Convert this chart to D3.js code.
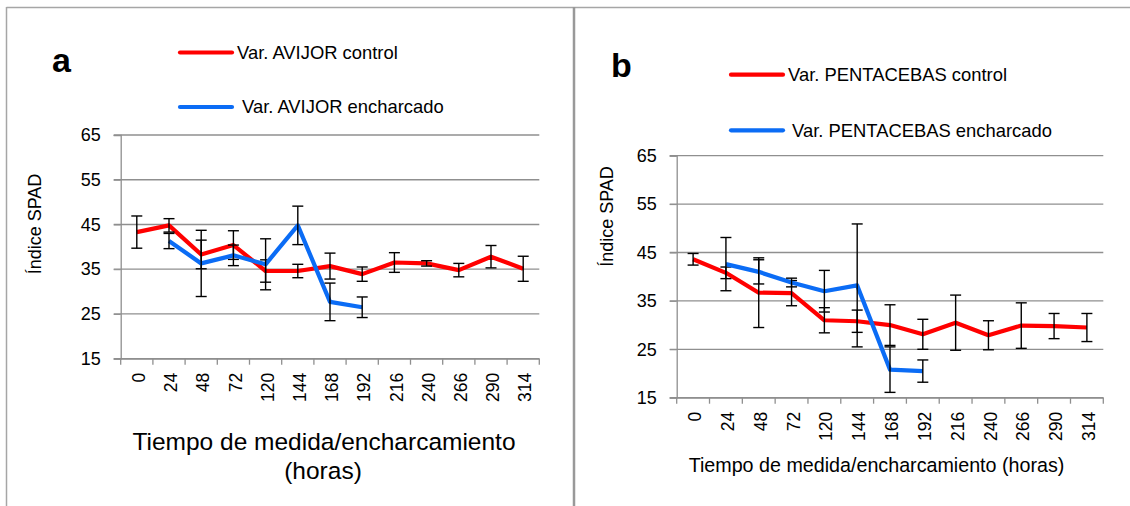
<!DOCTYPE html>
<html>
<head>
<meta charset="utf-8">
<script src="https://cdn.jsdelivr.net/npm/d3@7"></script>
<style>
  body { margin: 0; background: #fff; }
  svg { display: block; font-family: "Liberation Sans", Arial, sans-serif; }
</style>
</head>
<body>
<svg id="chart" width="1130" height="506"></svg>
<script>
// categories (hours)
var categories = ["0","24","48","72","120","144","168","192","216","240","266","290","314"];
var yTicks = [15, 25, 35, 45, 55, 65];

// panel a - AVIJOR
var avijorControl = [43.3, 44.8, 38.3, 40.4, 34.6, 34.6, 35.7, 33.9, 36.5, 36.3, 34.8, 37.8, 35.1];
var avijorControlErr = [3.6, 1.5, 3.2, 3.2, 2.5, 1.5, 2.9, 1.6, 2.2, 0.6, 1.5, 2.5, 2.8];
var avijorEnch = [null, 41.3, 36.3, 38.1, 36.1, 44.8, 27.7, 26.5, null, null, null, null, null];
var avijorEnchErr = [null, 1.7, 7.4, 2.3, 5.7, 4.3, 4.2, 2.3, null, null, null, null, null];

// panel b - PENTACEBAS
var pentaControl = [43.6, 40.8, 36.7, 36.6, 31.0, 30.8, 30.0, 28.1, 30.5, 27.9, 29.9, 29.8, 29.5];
var pentaControlErr = [1.2, 1.2, 7.2, 2.6, 2.6, 2.3, 4.2, 3.1, 5.7, 3.0, 4.7, 2.6, 2.9];
var pentaEnch = [null, 42.6, 41.0, 38.8, 37.0, 38.2, 20.8, 20.5, null, null, null, null, null];
var pentaEnchErr = [null, 5.5, 2.5, 0.9, 4.3, 12.7, 4.7, 2.3, null, null, null, null, null];

var RED = "#ff0000", BLUE = "#0b6cf5", GRID = "#8f8f8f";

var svg = d3.select("#chart");

// outer frame
svg.append("line").attr("x1", 6.5).attr("x2", 1130).attr("y1", 7.5).attr("y2", 7.5).attr("stroke", "#a6a6a6").attr("stroke-width", 1.5);
svg.append("line").attr("x1", 6.5).attr("x2", 6.5).attr("y1", 7).attr("y2", 506).attr("stroke", "#a6a6a6").attr("stroke-width", 1.5);
svg.append("line").attr("x1", 574).attr("x2", 574).attr("y1", 7).attr("y2", 506).attr("stroke", "#999").attr("stroke-width", 2.5);

function panel(cfg) {
  var g = svg.append("g");
  var x = d3.scaleBand().domain(categories).range([cfg.left, cfg.right]).padding(0);
  var y = d3.scaleLinear().domain([15, 65]).range([cfg.bottom, cfg.top]);
  var cx = function(i) { return x(categories[i]) + x.bandwidth() / 2; };

  // gridlines
  g.selectAll(".grid").data(yTicks).enter().append("line")
    .attr("x1", cfg.left - 7).attr("x2", cfg.right)
    .attr("y1", function(d){ return y(d); }).attr("y2", function(d){ return y(d); })
    .attr("stroke", GRID).attr("stroke-width", 1.3);

  // y axis
  var yAxis = g.append("g").attr("transform", "translate(" + cfg.left + ",0)")
    .call(d3.axisLeft(y).tickValues(yTicks).tickSize(7).tickPadding(13));
  yAxis.select(".domain").attr("stroke", GRID).attr("stroke-width", 1.3);
  yAxis.selectAll(".tick line").attr("stroke", GRID);
  yAxis.selectAll("text").attr("font-size", 18).attr("fill", "#000").attr("font-family", "Liberation Sans, Arial, sans-serif");

  // x axis with ticks between categories
  var xAxis = g.append("g").attr("transform", "translate(0," + cfg.bottom + ")")
    .call(d3.axisBottom(x).tickSize(0).tickPadding(0));
  xAxis.select(".domain").attr("stroke", GRID).attr("stroke-width", 1.3);
  xAxis.selectAll("text")
    .attr("font-size", 17.5).attr("fill", "#000").attr("font-family", "Liberation Sans, Arial, sans-serif")
    .attr("text-anchor", "end")
    .attr("transform", "translate(2,14) rotate(-90)")
    .attr("x", 0).attr("y", 0).attr("dy", "0.35em");
  var edges = categories.map(function(c){ return x(c); }).concat([cfg.right]);
  xAxis.selectAll(".edge").data(edges).enter().append("line")
    .attr("x1", function(d){ return d; }).attr("x2", function(d){ return d; })
    .attr("y1", 0).attr("y2", 6).attr("stroke", GRID).attr("stroke-width", 1.3);

  // series
  var line = d3.line()
    .defined(function(d){ return d != null; })
    .x(function(d, i){ return cx(i); })
    .y(function(d){ return y(d); });

  function series(vals, errs, color) {
    g.append("path").datum(vals).attr("d", line)
      .attr("fill", "none").attr("stroke", color).attr("stroke-width", 4.2).attr("stroke-linejoin", "round");
    var eb = g.append("g");
    vals.forEach(function(v, i) {
      if (v == null || errs[i] == null) return;
      var xc = cx(i), y1 = y(v + errs[i]), y2 = y(v - errs[i]);
      eb.append("line").attr("x1", xc).attr("x2", xc).attr("y1", y1).attr("y2", y2).attr("stroke", "#000").attr("stroke-width", 1.4);
      eb.append("line").attr("x1", xc - 5.5).attr("x2", xc + 5.5).attr("y1", y1).attr("y2", y1).attr("stroke", "#000").attr("stroke-width", 1.4);
      eb.append("line").attr("x1", xc - 5.5).attr("x2", xc + 5.5).attr("y1", y2).attr("y2", y2).attr("stroke", "#000").attr("stroke-width", 1.4);
    });
  }
  series(cfg.control, cfg.controlErr, RED);
  series(cfg.ench, cfg.enchErr, BLUE);

  // y label
  g.append("text").attr("transform", "translate(" + cfg.ylabX + "," + cfg.ylabY + ") rotate(-90)")
    .attr("text-anchor", "middle").attr("font-size", 18).text("Índice SPAD");

  // x title
  cfg.xtitle.forEach(function(t) {
    g.append("text").attr("x", t.x).attr("y", t.y).attr("text-anchor", "middle")
      .attr("font-size", t.size).text(t.text);
  });

  // panel letter
  g.append("text").attr("x", cfg.letter.x).attr("y", cfg.letter.y)
    .attr("font-size", 34).attr("font-weight", "bold").text(cfg.letter.text);

  // legend
  cfg.legend.forEach(function(l) {
    g.append("line").attr("x1", l.x1).attr("x2", l.x2).attr("y1", l.y).attr("y2", l.y)
      .attr("stroke", l.color).attr("stroke-width", 4.2).attr("stroke-linecap", "round");
    g.append("text").attr("x", l.tx).attr("y", l.y).attr("dy", "0.35em")
      .attr("font-size", 18.4).text(l.text);
  });
}

panel({
  left: 120.7, right: 539.3, top: 135, bottom: 358.7,
  control: avijorControl, controlErr: avijorControlErr,
  ench: avijorEnch, enchErr: avijorEnchErr,
  ylabX: 40.5, ylabY: 224,
  xtitle: [
    { text: "Tiempo de medida/encharcamiento", x: 324, y: 450, size: 24.5 },
    { text: "(horas)", x: 323, y: 479, size: 24.5 }
  ],
  letter: { text: "a", x: 52, y: 72 },
  legend: [
    { x1: 180, x2: 232, y: 52.5, tx: 237, color: RED, text: "Var. AVIJOR control" },
    { x1: 180, x2: 232, y: 107, tx: 242, color: BLUE, text: "Var. AVIJOR encharcado" }
  ]
});

panel({
  left: 676.7, right: 1103.3, top: 155.7, bottom: 397.7,
  control: pentaControl, controlErr: pentaControlErr,
  ench: pentaEnch, enchErr: pentaEnchErr,
  ylabX: 613, ylabY: 216.5,
  xtitle: [
    { text: "Tiempo de medida/encharcamiento (horas)", x: 876.5, y: 472, size: 19.7 }
  ],
  letter: { text: "b", x: 611, y: 77 },
  legend: [
    { x1: 731, x2: 783, y: 74.7, tx: 788, color: RED, text: "Var. PENTACEBAS control" },
    { x1: 731, x2: 783, y: 130.3, tx: 792, color: BLUE, text: "Var. PENTACEBAS encharcado" }
  ]
});
</script>
</body>
</html>
